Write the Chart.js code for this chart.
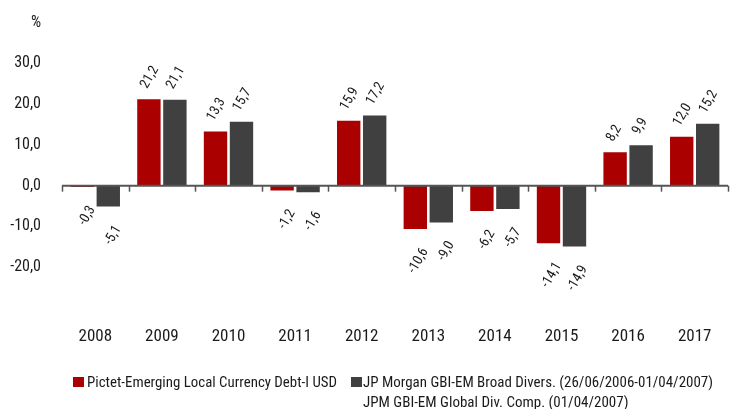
<!DOCTYPE html>
<html>
<head>
<meta charset="utf-8">
<script src="https://cdn.jsdelivr.net/npm/chart.js@4.4.0/dist/chart.umd.min.js"></script>
<style>
  html, body { margin: 0; padding: 0; background: #fff; }
  #wrap { width: 735px; height: 409px; }
</style>
</head>
<body>
<div id="wrap"><canvas id="chart" width="735" height="409"></canvas></div>
<script>
const years = ["2008", "2009", "2010", "2011", "2012", "2013", "2014", "2015", "2016", "2017"];
const fundValues = [-0.3, 21.2, 13.3, -1.2, 15.9, -10.6, -6.2, -14.1, 8.2, 12.0];
const benchValues = [-5.1, 21.1, 15.7, -1.6, 17.2, -9.0, -5.7, -14.9, 9.9, 15.2];
const fundName = "Pictet-Emerging Local Currency Debt-I USD";
const benchName = ["JP Morgan GBI-EM Broad Divers. (26/06/2006-01/04/2007)", "JPM GBI-EM Global Div. Comp. (01/04/2007)"];

const FONT = '"Roboto Condensed", "DejaVu Sans Condensed", sans-serif';
const RED = "#aa0000";
const GREY = "#404040";
const TXT = "#1a1a1a";

function fmt(v) {
  return v.toFixed(1).replace(".", ",");
}

// squeeze a line of text so it fits the given width
function fitText(ctx, text, x, y, maxW) {
  const w = ctx.measureText(text).width;
  const k = Math.min(1, maxW / w);
  ctx.save();
  ctx.translate(x, y);
  ctx.scale(k, 1);
  ctx.fillText(text, 0, 0);
  ctx.restore();
}

// zero line + small ticks between years
const zeroLine = {
  id: "zeroLine",
  afterDatasetsDraw(chart) {
    const ctx = chart.ctx;
    const area = chart.chartArea;
    const y0 = chart.scales.y.getPixelForValue(0);
    const step = (area.right - area.left) / years.length;
    ctx.save();
    ctx.strokeStyle = "#555";
    ctx.lineWidth = 2;
    ctx.beginPath();
    ctx.moveTo(area.left, y0);
    ctx.lineTo(area.right, y0);
    ctx.stroke();
    ctx.lineWidth = 1.5;
    for (let i = 0; i <= years.length; i++) {
      const x = Math.round(area.left + i * step) + 0.5;
      ctx.beginPath();
      ctx.moveTo(x, y0);
      ctx.lineTo(x, y0 + 6);
      ctx.stroke();
    }
    ctx.restore();
  }
};

// rotated value labels
const valueLabels = {
  id: "valueLabels",
  afterDraw(chart) {
    const ctx = chart.ctx;
    const ang = -60 * Math.PI / 180;
    ctx.save();
    ctx.font = "14px " + FONT;
    ctx.fillStyle = TXT;
    ctx.textBaseline = "alphabetic";
    chart.data.datasets.forEach((ds, di) => {
      const meta = chart.getDatasetMeta(di);
      meta.data.forEach((bar, i) => {
        const v = ds.data[i];
        ctx.save();
        if (v >= 0) {
          ctx.translate(bar.x - 2, bar.y - 10);
          ctx.textAlign = "left";
        } else {
          ctx.translate(bar.x + 13, bar.y + 22);
          ctx.textAlign = "right";
        }
        ctx.rotate(ang);
        ctx.fillText(fmt(v), 0, 0);
        ctx.restore();
      });
    });
    ctx.restore();
  }
};

// legend at the bottom
const bottomLegend = {
  id: "bottomLegend",
  afterDraw(chart) {
    const ctx = chart.ctx;
    ctx.save();
    ctx.font = "15px " + FONT;
    ctx.textBaseline = "alphabetic";
    ctx.textAlign = "left";
    ctx.fillStyle = RED;
    ctx.fillRect(73, 377, 11, 10);
    ctx.fillStyle = TXT;
    fitText(ctx, fundName, 87, 387, 250);
    ctx.fillStyle = GREY;
    ctx.fillRect(351, 377, 11, 10);
    ctx.fillStyle = TXT;
    fitText(ctx, benchName[0], 363, 387, 350);
    fitText(ctx, benchName[1], 363, 407, 320);
    ctx.restore();
  }
};

new Chart(document.getElementById("chart"), {
  type: "bar",
  data: {
    labels: years,
    datasets: [{
      label: fundName,
      data: fundValues,
      backgroundColor: RED,
      categoryPercentage: 0.78,
      barPercentage: 0.9
    }, {
      label: benchName.join(" "),
      data: benchValues,
      backgroundColor: GREY,
      categoryPercentage: 0.78,
      barPercentage: 0.9
    }]
  },
  options: {
    responsive: false,
    animation: false,
    layout: { padding: { top: 14, right: 7, bottom: 61, left: 0 } },
    plugins: {
      legend: { display: false },
      tooltip: { enabled: false }
    },
    scales: {
      x: {
        grid: { display: false, drawTicks: false },
        border: { display: false },
        afterFit(scale) { scale.height = 40; },
        ticks: {
          color: TXT,
          font: { family: FONT, size: 17 },
          padding: 19,
          maxRotation: 0
        }
      },
      y: {
        min: -30,
        max: 40,
        grid: { display: false },
        border: { display: false },
        afterFit(scale) { scale.width = 62; },
        ticks: {
          stepSize: 10,
          color: TXT,
          padding: 13,
          font: { family: FONT, size: 16 },
          callback(v) {
            if (v === 40) return "%";
            if (v === -30) return "";
            return fmt(v);
          }
        }
      }
    }
  },
  plugins: [zeroLine, valueLabels, bottomLegend]
});
</script>
</body>
</html>
